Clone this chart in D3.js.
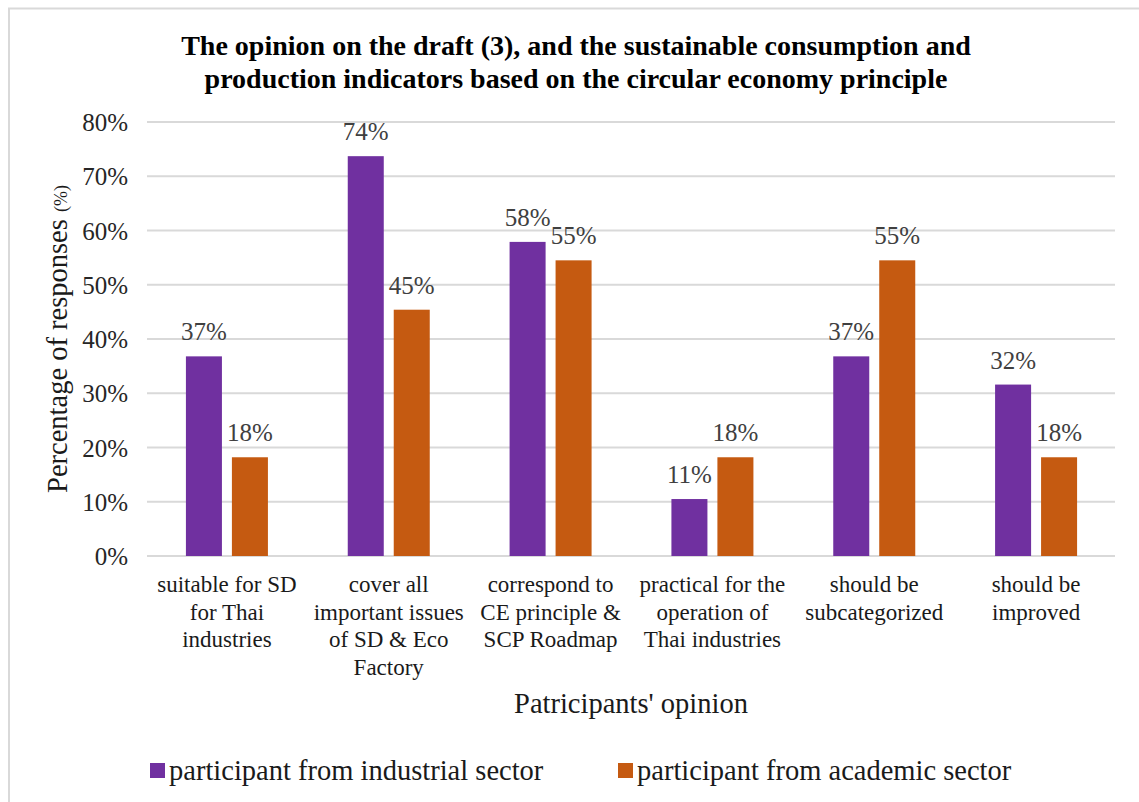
<!DOCTYPE html>
<html>
<head>
<meta charset="utf-8">
<script src="https://cdn.jsdelivr.net/npm/d3@7"></script>
<style>
  html, body { margin: 0; padding: 0; background: #fff; }
  svg { display: block; }
</style>
</head>
<body>
<svg id="chart" width="1139" height="802" font-family="Liberation Serif, Times New Roman, serif"></svg>
<script>
// Survey results: share of respondents agreeing with each statement
const categories = [
  ["suitable for SD", "for Thai", "industries"],
  ["cover all", "important issues", "of SD & Eco", "Factory"],
  ["correspond to", "CE principle &", "SCP Roadmap"],
  ["practical for the", "operation of", "Thai industries"],
  ["should be", "subcategorized"],
  ["should be", "improved"]
];
const seriesNames = ["participant from industrial sector", "participant from academic sector"];
const industrialValues = [0.368, 0.737, 0.579, 0.105, 0.368, 0.316];
const academicValues   = [0.182, 0.454, 0.545, 0.182, 0.545, 0.182];
const yTicks = [0, 0.1, 0.2, 0.3, 0.4, 0.5, 0.6, 0.7, 0.8];
const titleLines = [
  "The opinion on the draft (3), and the sustainable consumption and",
  "production indicators based on the circular economy principle"
];
const colors = ["#7030A0", "#C55A11"];
const pct = d3.format(".0%");

const svg = d3.select("#chart");
const W = 1139, H = 802;
const plot = { left: 146, right: 1117, top: 122, bottom: 556 };

// outer frame (top and left edges visible)
svg.append("path")
  .attr("d", `M9,${H} L9,8.5 L${W},8.5`)
  .attr("fill", "none").attr("stroke", "#d9d9d9").attr("stroke-width", 2);

const catKeys = categories.map((c, i) => i);
const x0 = d3.scaleBand().domain(catKeys).range([plot.left, plot.right]).padding(0);
const groupW = 82;
const x1 = d3.scaleBand().domain([0, 1])
  .range([(x0.bandwidth() - groupW) / 2, (x0.bandwidth() + groupW) / 2])
  .paddingInner(0.217).paddingOuter(0);
const y = d3.scaleLinear().domain([0, 0.8]).range([plot.bottom, plot.top]);

// gridlines
svg.append("g").selectAll("line").data(yTicks).join("line")
  .attr("x1", 147).attr("x2", 1115)
  .attr("y1", d => y(d)).attr("y2", d => y(d))
  .attr("stroke", "#d9d9d9").attr("stroke-width", 2);

// y tick labels
svg.append("g").selectAll("text").data(yTicks).join("text")
  .attr("x", 128).attr("y", d => y(d)).attr("dy", "0.36em")
  .attr("text-anchor", "end").attr("font-size", 25).attr("fill", "#262626")
  .text(d => pct(d));

// bars with value labels
const series = [industrialValues, academicValues];
const rows = catKeys.map(i => series.map((s, k) => ({ cat: i, k, v: s[i] })));
const groups = svg.append("g").selectAll("g").data(rows).join("g")
  .attr("transform", (d, i) => `translate(${x0(i)},0)`);
groups.selectAll("rect").data(d => d).join("rect")
  .attr("x", d => x1(d.k)).attr("width", x1.bandwidth())
  .attr("y", d => y(d.v)).attr("height", d => y(0) - y(d.v))
  .attr("fill", d => colors[d.k]);
groups.selectAll("text.val").data(d => d).join("text")
  .attr("class", "val")
  .attr("x", d => x1(d.k) + x1.bandwidth() / 2)
  .attr("y", d => y(d.v) - 16)
  .attr("text-anchor", "middle").attr("font-size", 25).attr("fill", "#404040")
  .text(d => pct(d.v));

// category labels
const catText = svg.append("g").selectAll("text").data(categories).join("text")
  .attr("text-anchor", "middle").attr("font-size", 23).attr("fill", "#1a1a1a");
catText.selectAll("tspan").data((d, i) => d.map(ln => ({ ln, i }))).join("tspan")
  .attr("x", d => x0(d.i) + x0.bandwidth() / 2)
  .attr("y", (d, j) => 592 + j * 27.7)
  .text(d => d.ln);

// axis titles
svg.append("text").attr("x", 631).attr("y", 713).attr("text-anchor", "middle")
  .attr("font-size", 28.5).attr("fill", "#1a1a1a").text("Patricipants' opinion");

const yt = svg.append("text").attr("transform", "translate(67,339) rotate(-90)")
  .attr("text-anchor", "middle").attr("fill", "#1a1a1a");
yt.append("tspan").attr("font-size", 28.5).text("Percentage of responses ");
yt.append("tspan").attr("font-size", 18).text("(%)");

// title
svg.append("g").selectAll("text").data(titleLines).join("text")
  .attr("x", 576).attr("y", (d, i) => 55 + i * 33)
  .attr("text-anchor", "middle").attr("font-size", 28).attr("font-weight", "bold")
  .attr("fill", "#000").text(d => d);

// legend
const legendX = [150, 618];
const lg = svg.append("g").selectAll("g").data(seriesNames).join("g")
  .attr("transform", (d, i) => `translate(${legendX[i]},0)`);
lg.append("rect").attr("x", 0).attr("y", 763).attr("width", 15).attr("height", 15)
  .attr("fill", (d, i) => colors[i]);
lg.append("text").attr("x", 19).attr("y", 780).attr("font-size", 28.5).attr("fill", "#1a1a1a")
  .text(d => d);
</script>
</body>
</html>
